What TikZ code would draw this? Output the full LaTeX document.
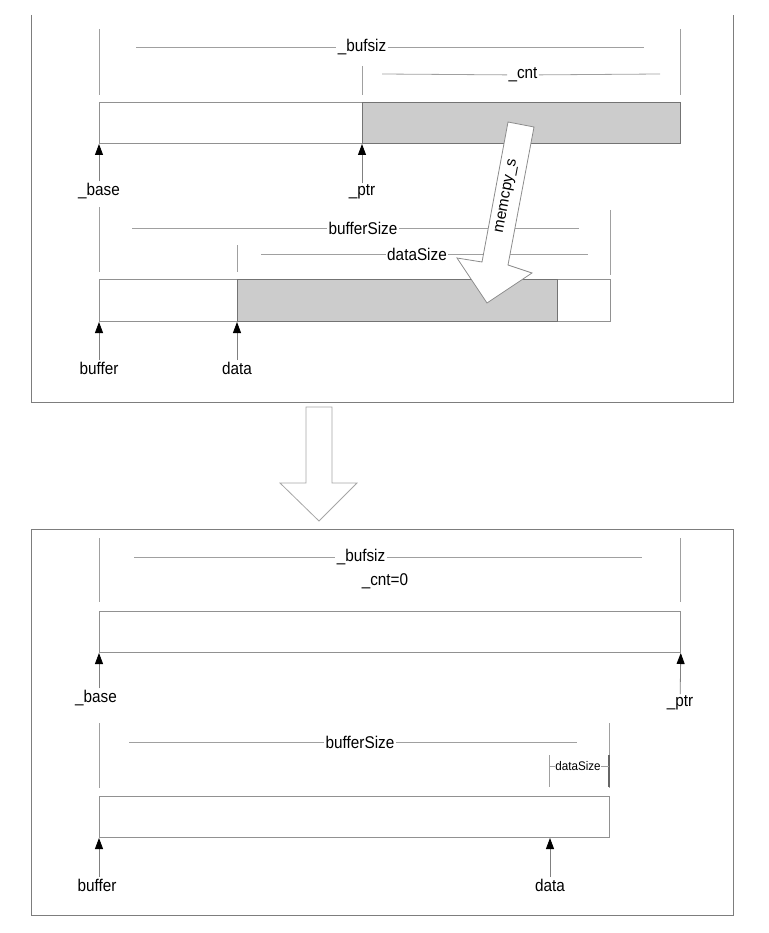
\documentclass[tikz,border=0pt]{standalone}
\usepackage{fontspec}
\setmainfont{Liberation Sans}
\usetikzlibrary{arrows.meta}
\definecolor{framegray}{RGB}{125,125,125}
\definecolor{linegray}{RGB}{160,160,160}
\definecolor{bufgray}{RGB}{145,145,145}
\definecolor{usedgray}{RGB}{204,204,204}
\tikzset{lbl/.style={font=\fontsize{17}{20}\selectfont, xscale=0.9, inner sep=1.5pt}}
\tikzset{smalllbl/.style={font=\fontsize{12.5}{14}\selectfont, xscale=0.93, inner sep=0.5pt}}
\tikzset{turnedlbl/.style={font=\fontsize{15.5}{18}\selectfont, inner sep=0pt}}
\tikzset{frame/.style={draw=framegray, line width=1pt}}
\tikzset{ext/.style={draw=linegray, line width=0.8pt}}
\tikzset{dim/.style={draw=linegray, line width=0.8pt}}
\tikzset{buf/.style={draw=bufgray, fill=white, anchor=south west, inner sep=0pt, line width=0.8pt}}
\tikzset{used/.style={buf, draw=black!55, fill=usedgray}}
\tikzset{ptr/.style={draw=black!50, line width=0.8pt, -{Triangle[length=11pt, width=8pt, black]}}}
\tikzset{fat/.style={draw=black!45, fill=white, line width=0.8pt, line join=miter}}

\begin{document}
\begin{tikzpicture}[x=1pt, y=-1pt]
        \useasboundingbox (0,0) rectangle (768,933);

        % before the copy
        \draw[frame] (31,15) -- (31,402) -- (733,402) -- (733,15);

        \draw[ext] (99,29) -- (99,95);
        \draw[ext] (680,29) -- (680,95);
        \draw[ext] (362,66) -- (362,95);
        \node[lbl] (bufsiz1) at (362,47) {\_bufsiz};
        \draw[dim] (136,47) -- (bufsiz1) -- (644,47);
        \node[lbl] (cnt1) at (523,75) {\_cnt};
        \draw[dim] (382,74) -- (cnt1) -- (660,74);

        \node[buf, minimum width=581pt, minimum height=41pt] (streambuf1) at (99,144) {};
        \node[used, minimum width=318pt, minimum height=41pt] (streamdata1) at (362,144) {};
        \node[lbl] (base1) at (99,191) {\_base};
        \node[lbl] (ptr1) at (362,192) {\_ptr};
        \draw[ptr] (base1) -- (streambuf1.south west);
        \draw[ptr] (ptr1) -- (streamdata1.south west);

        \draw[ext] (99,207) -- (99,272);
        \draw[ext] (610,210) -- (610,275);
        \draw[ext] (237,245) -- (237,272);
        \node[lbl] (bufsize1) at (363,228) {bufferSize};
        \draw[dim] (132,228) -- (bufsize1) -- (579,228);
        \node[lbl] (datasize1) at (417,254) {dataSize};
        \draw[dim] (261,254) -- (datasize1) -- (588,254);

        \node[buf, minimum width=511pt, minimum height=42pt] (userbuf1) at (99,322) {};
        \node[used, minimum width=320pt, minimum height=42pt] (userdata1) at (237,322) {};
        \node[lbl] (buffer1) at (99,368) {buffer};
        \node[lbl] (data1) at (237,368) {data};
        \draw[ptr] (buffer1) -- (userbuf1.south west);
        \draw[ptr] (data1) -- (userdata1.south west);

        % memcpy_s arrow
        \draw[fat] (508,122) -- (534,127) -- (508,265) -- (532,273) -- (487,303)
                -- (457,258) -- (482,262) -- cycle;
        \node[turnedlbl, rotate=79.4] (memcpy) at (507,196) {memcpy\_s};

        % big arrow between the panels
        \draw[fat, draw=black!35] (306,407) -- (332,407) -- (332,483) -- (357,483)
                -- (319,521) -- (280,483) -- (306,483) -- cycle;

        % after the copy
        \draw[frame] (31,529) rectangle (733,915);

        \draw[ext] (99,538) -- (99,602);
        \draw[ext] (680,538) -- (680,602);
        \node[lbl] (bufsiz2) at (361,557) {\_bufsiz};
        \draw[dim] (134,557) -- (bufsiz2) -- (642,557);
        \node[lbl] (cnt2) at (385,581) {\_cnt=0};

        \node[buf, minimum width=581pt, minimum height=41pt] (streambuf2) at (99,653) {};
        \node[lbl] (base2) at (96,698) {\_base};
        \node[lbl] (ptr2) at (680,703) {\_ptr};
        \draw[ptr] (base2.north -| streambuf2.south west) -- (streambuf2.south west);
        \draw[ptr] (ptr2) -- (streambuf2.south east);

        \draw[ext] (99,723) -- (99,788);
        \draw[ext] (609,723) -- (609,788);
        \draw[ext] (549,755) -- (549,787);
        \draw[ext, draw=black!60, line width=1.2pt] (609,755) -- (609,787);
        \node[lbl] (bufsize2) at (360,742) {bufferSize};
        \draw[dim] (129,742) -- (bufsize2) -- (577,742);
        \node[smalllbl] (datasize2) at (578,766) {dataSize};
        \draw[dim] (549,766) -- (datasize2) -- (609,766);

        \node[buf, minimum width=510pt, minimum height=41pt] (userbuf2) at (99,838) {};
        \node[lbl] (buffer2) at (97,885) {buffer};
        \node[lbl] (data2) at (550,885) {data};
        \draw[ptr] (buffer2.north -| userbuf2.south west) -- (userbuf2.south west);
        \draw[ptr] (data2) -- (data2 |- userbuf2.south);

\end{tikzpicture}
\end{document}
